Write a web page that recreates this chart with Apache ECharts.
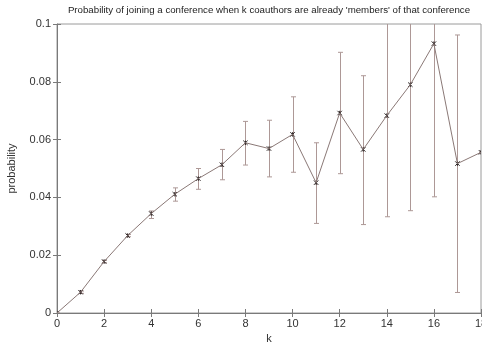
<!DOCTYPE html>
<html><head><meta charset="utf-8">
<script src="https://cdn.jsdelivr.net/npm/echarts@6/dist/echarts.min.js"></script>
<style>html,body{margin:0;padding:0;background:#fff}#c{width:482px;height:342px}</style>
</head><body><div id="c"></div>
<script>
const kValues = [0,1,2,3,4,5,6,7,8,9,10,11,12,13,14,15,16,17,18];
const probability = [0,0.0072,0.0178,0.0268,0.0344,0.0411,0.0465,0.0513,0.0589,0.0569,0.0618,0.0451,0.0692,0.0566,0.0683,0.0790,0.0932,0.0517,0.0556];
const errLow  = [0,0.0068,0.0174,0.0264,0.0327,0.0387,0.0428,0.0461,0.0512,0.0471,0.0487,0.0310,0.0482,0.0306,0.0333,0.0354,0.0402,0.0071,0.0556];
const errHigh = [0,0.0076,0.0182,0.0272,0.0353,0.0433,0.0500,0.0566,0.0663,0.0667,0.0748,0.0589,0.0902,0.0821,0.1033,0.1226,0.1460,0.0962,0.0556];
const xTicks = [0,2,4,6,8,10,12,14,16,18];
const yTicks = [0,0.02,0.04,0.06,0.08,0.1];
const titleText = 'Probability of joining a conference when k coauthors are already \'members\' of that conference';

const chart = echarts.init(document.getElementById('c'), null, {renderer:'canvas'});
const font = 'Liberation Sans';
const axisColor = '#7a7a7a';
const labelStyle = {color:'#333', fontSize:11, fontFamily:font};

const lineData = kValues.map((k,i)=>[k, probability[i]]);
const errData = kValues.map((k,i)=>[k, probability[i], errLow[i], errHigh[i]]);

function renderErr(params, api){
  const x = api.value(0);
  const pt = api.coord([x, api.value(1)]);
  const lo = api.coord([x, api.value(2)]);
  const hi = api.coord([x, api.value(3)]);
  const cs = params.coordSys;
  const top = cs.y, bottom = cs.y + cs.height;
  const ebStyle = {stroke:'#ad9896', lineWidth:1};
  const children = [];
  const px = Math.round(pt[0]) + 0.5;
  const hiY = Math.max(hi[1], top), loY = Math.min(lo[1], bottom);
  children.push({type:'line', shape:{x1:px, y1:hiY, x2:px, y2:loY}, style:ebStyle});
  if (hi[1] >= top) children.push({type:'line', shape:{x1:px-2.5, y1:hi[1], x2:px+2.5, y2:hi[1]}, style:ebStyle});
  if (lo[1] <= bottom) children.push({type:'line', shape:{x1:px-2.5, y1:lo[1], x2:px+2.5, y2:lo[1]}, style:ebStyle});
  const m = 2.2, mk = {stroke:'#2a2222', lineWidth:1};
  children.push({type:'line', shape:{x1:pt[0]-m, y1:pt[1]-m, x2:pt[0]+m, y2:pt[1]+m}, style:mk});
  children.push({type:'line', shape:{x1:pt[0]-m, y1:pt[1]+m, x2:pt[0]+m, y2:pt[1]-m}, style:mk});
  children.push({type:'line', shape:{x1:pt[0], y1:pt[1]-m, x2:pt[0], y2:pt[1]+m}, style:mk});
  return {type:'group', children};
}

chart.setOption({
  animation:false,
  backgroundColor:'#fff',
  graphic:[{type:'text', x:269, y:5, style:{text:titleText, fill:'#222', fontSize:9.7, fontFamily:font, textAlign:'center', textVerticalAlign:'top'}}],
  grid:{left:57, right:1, top:24, bottom:29, containLabel:false, outerBoundsMode:'none', show:true, borderColor:'#9a9a9a', borderWidth:1},
  xAxis:[{
    type:'value', min:0, max:18, interval:2, position:'bottom',
    name:'k', nameLocation:'middle', nameGap:18, nameTextStyle:labelStyle,
    axisLine:{show:true, onZero:false, lineStyle:{color:axisColor}},
    axisTick:{show:true, inside:true, length:4, lineStyle:{color:axisColor}},
    axisLabel:Object.assign({margin:5, hideOverlap:false, formatter:v=>xTicks.includes(v)?String(v):''}, labelStyle),
    splitLine:{show:false}
  },{
    type:'value', min:0, max:18, interval:2, position:'top',
    axisLine:{show:false}, axisLabel:{show:false}, splitLine:{show:false},
    axisTick:{show:true, inside:true, length:4, lineStyle:{color:axisColor}}
  }],
  yAxis:[{
    type:'value', min:0, max:0.1, interval:0.02, position:'left',
    name:'probability', nameLocation:'middle', nameGap:40, nameRotate:90, nameTextStyle:labelStyle,
    axisLine:{show:true, onZero:false, lineStyle:{color:axisColor}},
    axisTick:{show:true, inside:true, length:4, lineStyle:{color:axisColor}},
    axisLabel:Object.assign({margin:6, formatter:v=>{const t=yTicks.find(y=>Math.abs(y-v)<1e-9);return t===undefined?'':String(t);}}, labelStyle),
    splitLine:{show:false}
  },{
    type:'value', min:0, max:0.1, interval:0.02, position:'right',
    axisLine:{show:false}, axisLabel:{show:false}, splitLine:{show:false},
    axisTick:{show:true, inside:true, length:4, lineStyle:{color:axisColor}}
  }],
  series:[{
    type:'line', data:lineData, symbol:'none', clip:true,
    lineStyle:{color:'#8a7876', width:1}
  },{
    type:'custom', data:errData, renderItem:renderErr, clip:true,
    encode:{x:0, y:1}, z:3
  }]
});
</script></body></html>
